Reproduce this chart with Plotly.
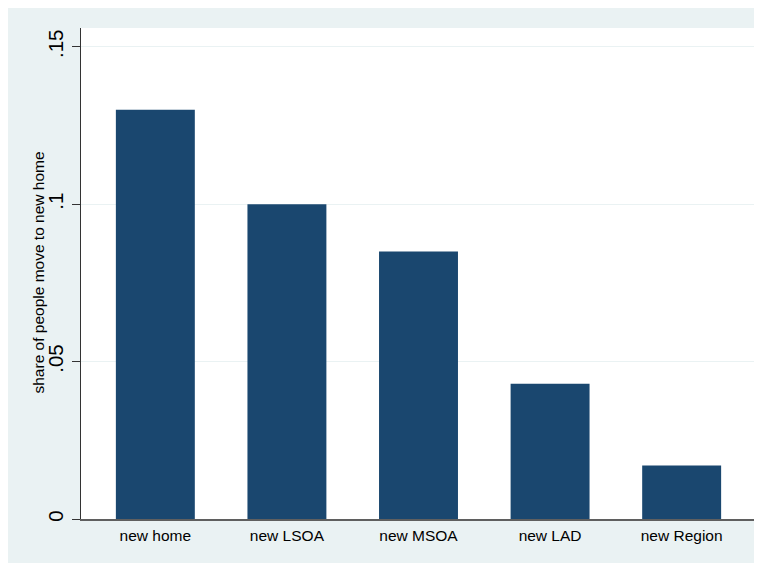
import plotly.graph_objects as go

categories = ["new home", "new LSOA", "new MSOA", "new LAD", "new Region"]
shares = [0.130, 0.100, 0.085, 0.043, 0.017]
ytick_vals = [0, 0.05, 0.10, 0.15]
ytick_text = ["0", ".05", ".1", ".15"]
y_title = "share of people move to new home"

BG = "#EAF2F3"
BAR = "#1A476F"

fig = go.Figure()
fig.add_trace(go.Bar(
    x=categories, y=shares, width=0.6,
    marker=dict(color=BAR, line=dict(width=0)),
    hoverinfo="x+y",
))

W, H = 762, 563
L, R, T, B = 73, 14, 20, 52
pw, ph = W - L - R, H - T - B

fig.add_annotation(
    text=y_title, xref="paper", yref="paper",
    x=(31 - L) / pw, y=0.502, xanchor="center", yanchor="middle",
    textangle=-90, showarrow=False, font=dict(size=15.5),
)

fig.update_layout(
    width=W, height=H,
    margin=dict(l=L, r=R, t=T, b=B, pad=0),
    paper_bgcolor=BG, plot_bgcolor="white",
    font=dict(family="Liberation Sans, Arial, Helvetica, sans-serif", color="black", size=15),
    showlegend=False,
    bargap=0.4,
)
fig.update_xaxes(
    type="category", range=[-0.565, 4.565],
    showgrid=False, ticks="", showline=True, linecolor="#5f5f5f", linewidth=1.5,
    tickfont=dict(size=15.5), ticklabelstandoff=2, zeroline=False, fixedrange=True,
)
fig.update_yaxes(
    range=[0, 0.156], tickvals=ytick_vals, ticktext=ytick_text,
    tickangle=-90, tickfont=dict(size=20.5), ticklabelstandoff=1,
    ticks="outside", ticklen=8, tickcolor="#333333", tickwidth=1,
    showline=True, linecolor="#333333", linewidth=1,
    showgrid=True, gridcolor=BG, gridwidth=1.2, zeroline=False,
    fixedrange=True,
)

fig.write_html("out.html")
